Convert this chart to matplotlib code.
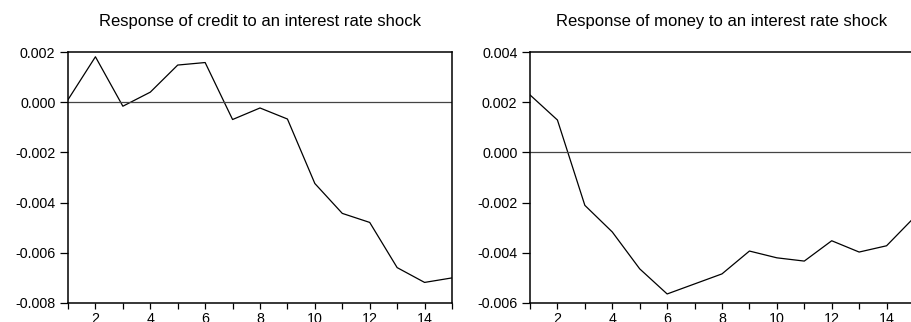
import matplotlib
matplotlib.use('Agg')
from matplotlib import pyplot as plt
from matplotlib.ticker import FormatStrFormatter, MultipleLocator

plt.rcParams['font.family'] = ['Liberation Sans', 'DejaVu Sans']
plt.rcParams['axes.unicode_minus'] = False

periods = list(range(1, 16))
credit = [0.0001, 0.00181, -0.00016, 0.0004, 0.00148, 0.00158, -0.00069, -0.00023,
          -0.00067, -0.00324, -0.00443, -0.00479, -0.00659, -0.00718, -0.0070]
money = [0.00229, 0.00129, -0.00211, -0.00317, -0.00464, -0.00564, -0.00524, -0.00484,
         -0.00393, -0.0042, -0.00433, -0.00352, -0.00397, -0.00372, -0.0026]

titles = ['Response of credit to an interest rate shock',
          'Response of money to an interest rate shock']
ylims = [(-0.008, 0.002), (-0.006, 0.004)]

W, H = 911, 322
fig = plt.figure(figsize=(W / 100, H / 100), dpi=100)

lefts = [68, 530]
for i, series in enumerate([credit, money]):
    ax = fig.add_axes([lefts[i] / W, (H - 303) / H, 384 / W, 251 / H])
    ax.plot(periods, series, color='black', linewidth=0.9)
    ax.axhline(0, color='#444444', linewidth=0.9)
    ax.set_xlim(1, 15)
    ax.set_ylim(*ylims[i])
    ax.yaxis.set_major_locator(MultipleLocator(0.002))
    ax.yaxis.set_major_formatter(FormatStrFormatter('%.3f'))
    ax.set_xticks(periods)
    ax.set_xticklabels([str(p) if p % 2 == 0 else '' for p in periods])
    ax.tick_params(axis='y', direction='out', length=6, width=0.9, labelsize=10.3, pad=3)
    ax.tick_params(axis='x', direction='out', length=4, width=0.9, labelsize=10.3, pad=2.2)
    for s in ax.spines.values():
        s.set_linewidth(1.1)
    ax.set_title(titles[i], fontsize=12, pad=18.5)

fig.savefig('out.png', dpi=100)
